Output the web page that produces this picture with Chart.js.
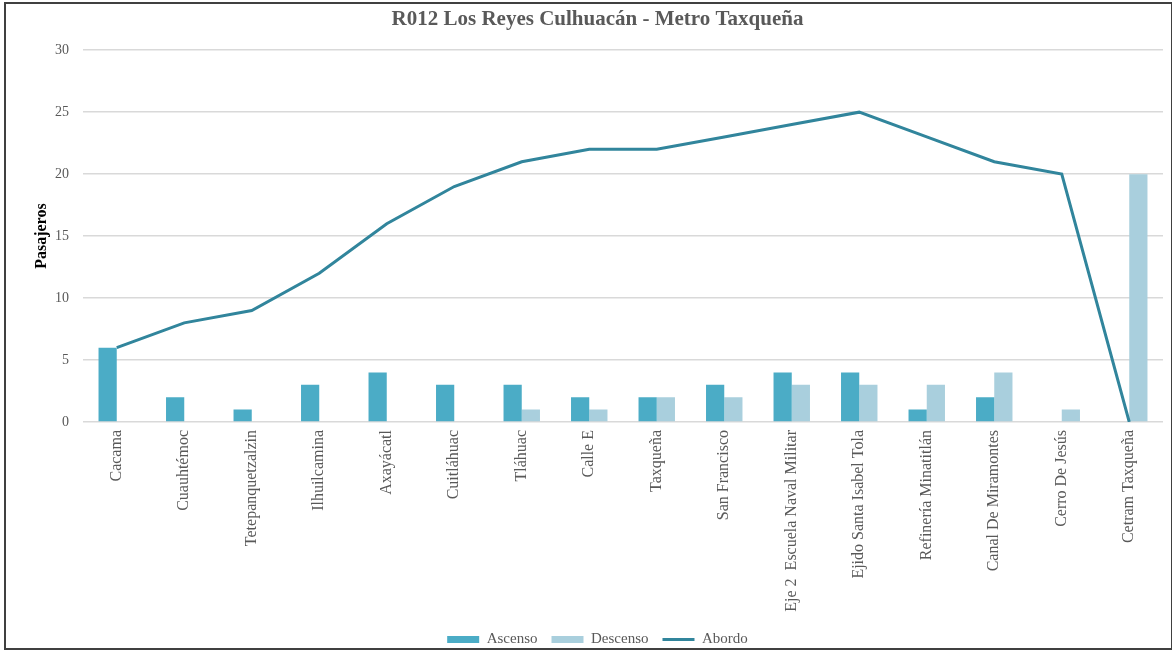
<!DOCTYPE html>
<html>
<head>
<meta charset="utf-8">
<script src="https://cdn.jsdelivr.net/npm/chart.js@4"></script>
<style>
  body { margin: 0; background: #fff; }
  #frame {
    position: absolute; left: 4px; top: 2px;
    width: 1165px; height: 644px;
    border: 2px solid #404040; border-right-width: 1px;
    background: #fff;
  }
</style>
</head>
<body>
<div id="frame"><canvas id="newChart" width="1165" height="644"></canvas></div>
<script>
// Stops on the route
const stops = ['Cacama', 'Cuauhtémoc', 'Tetepanquetzalzin', 'Ilhuilcamina', 'Axayácatl',
  'Cuitláhuac', 'Tláhuac', 'Calle E', 'Taxqueña', 'San Francisco',
  'Eje 2  Escuela Naval Militar', 'Ejido Santa Isabel Tola', 'Refinería Minatitlán',
  'Canal De Miramontes', 'Cerro De Jesús', 'Cetram Taxqueña'];

// Passengers per stop
const ascenso = [6, 2, 1, 3, 4, 3, 3, 2, 2, 3, 4, 4, 1, 2, 0, 0];
const descenso = [0, 0, 0, 0, 0, 0, 1, 1, 2, 2, 3, 3, 3, 4, 1, 20];
const abordo = [6, 8, 9, 12, 16, 19, 21, 22, 22, 23, 24, 25, 23, 21, 20, 0];

const yTicks = [0, 5, 10, 15, 20, 25, 30];

const serif = "'Liberation Serif', 'Times New Roman', serif";
const grey = '#595959';

const ctx = document.getElementById('newChart').getContext('2d');

let myChart = new Chart(ctx, {
  type: 'bar',
  data: {
    labels: stops,
    datasets: [
      {
        type: 'line',
        label: 'Abordo',
        data: abordo,
        borderColor: '#31859C',
        backgroundColor: '#31859C',
        borderWidth: 3,
        pointRadius: 0,
        pointStyle: 'line',
        tension: 0,
        order: 0
      },
      {
        label: 'Ascenso',
        data: ascenso,
        backgroundColor: '#4BACC6',
        pointStyle: 'rect',
        barPercentage: 1,
        categoryPercentage: 0.54,
        order: 1
      },
      {
        label: 'Descenso',
        data: descenso,
        backgroundColor: '#A9CFDD',
        pointStyle: 'rect',
        barPercentage: 1,
        categoryPercentage: 0.54,
        order: 2
      }
    ]
  },
  options: {
    responsive: false,
    animation: false,
    layout: { padding: { left: 26, right: 8, top: 3, bottom: -9 } },
    scales: {
      x: {
        grid: { display: false },
        border: { display: false },
        ticks: {
          color: grey,
          font: { family: serif, size: 16 },
          minRotation: 90,
          maxRotation: 90,
          autoSkip: false,
          padding: 0
        },
        afterFit: function (scale) { scale.height = 196; }
      },
      y: {
        min: 0,
        max: 30,
        afterBuildTicks: function (scale) {
          scale.ticks = yTicks.map((v) => ({ value: v }));
        },
        afterFit: function (scale) { scale.width = 51; },
        grid: { color: '#D9D9D9', lineWidth: 1.5, drawTicks: false },
        border: { display: false },
        ticks: {
          color: grey,
          font: { family: serif, size: 14 },
          padding: 14
        },
        title: {
          display: true,
          text: 'Pasajeros',
          color: '#000',
          font: { family: serif, size: 16, weight: 'bold' },
          padding: 0
        }
      }
    },
    plugins: {
      title: {
        display: true,
        text: 'R012 Los Reyes Culhuacán - Metro Taxqueña',
        color: grey,
        font: { family: serif, size: 21, weight: 'bold' },
        padding: { top: 0, bottom: 18 }
      },
      legend: {
        position: 'bottom',
        labels: {
          color: grey,
          font: { family: serif, size: 15 },
          usePointStyle: true,
          pointStyleWidth: 32,
          boxHeight: 7,
          padding: 14,
          sort: function (a, b) { return b.datasetIndex === 0 ? -1 : a.datasetIndex === 0 ? 1 : a.datasetIndex - b.datasetIndex; }
        }
      },
      tooltip: { enabled: false }
    }
  }
});
</script>
</body>
</html>
